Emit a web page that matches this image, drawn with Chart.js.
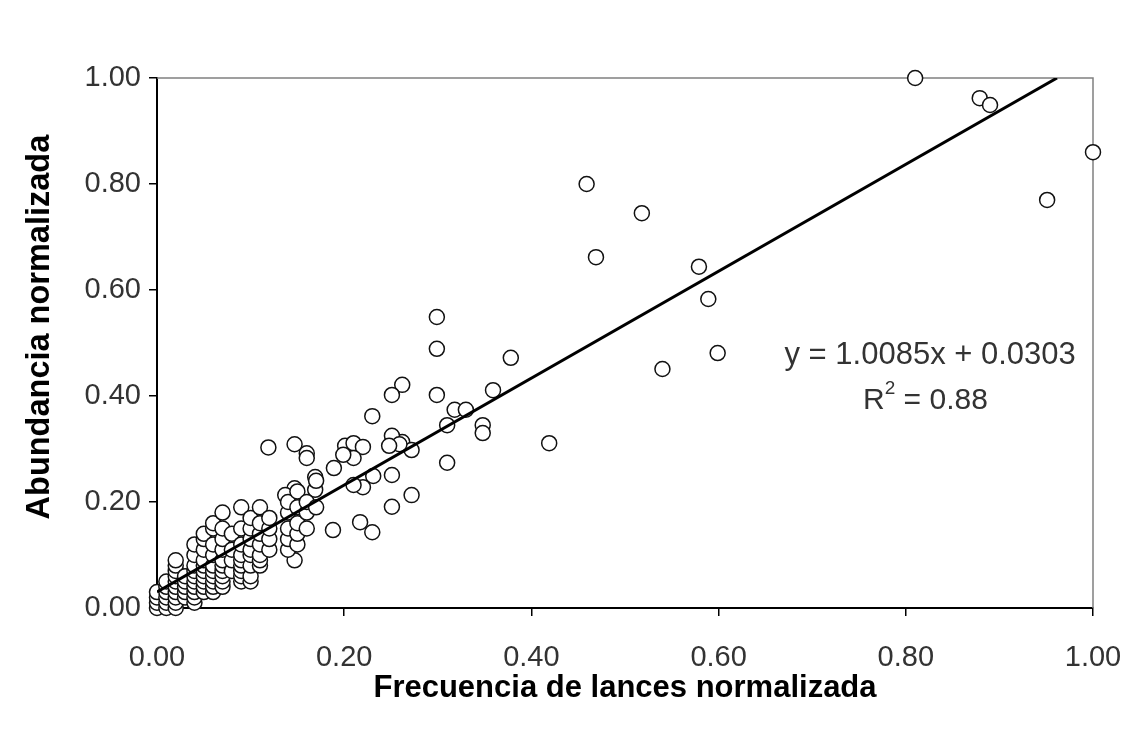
<!DOCTYPE html>
<html>
<head>
<meta charset="utf-8">
<script src="https://cdn.jsdelivr.net/npm/chart.js@4.4.1/dist/chart.umd.min.js"></script>
<style>
  html, body { margin: 0; padding: 0; background: #fff; }
  #wrap { width: 1132px; height: 734px; }
</style>
</head>
<body>
<div id="wrap"><canvas id="c" width="1132" height="734"></canvas></div>
<script>
// Frecuencia de lances normalizada (x) and Abundancia normalizada (y)
const freqValues = [
  0.81, 0.879, 0.89, 1.00, 0.951,
  0.459, 0.518, 0.469, 0.579, 0.589, 0.599, 0.540,
  0.299, 0.299, 0.378, 0.262, 0.299, 0.359, 0.318, 0.330, 0.348, 0.348, 0.310, 0.419, 0.262, 0.272, 0.310, 0.272,
  0.251, 0.230, 0.251, 0.259, 0.248,
  0.119, 0.147, 0.160, 0.160, 0.189, 0.201, 0.210, 0.220, 0.210, 0.199, 0.231, 0.251, 0.220, 0.210, 0.169, 0.169, 0.147, 0.137, 0.251, 0.217, 0.230, 0.188, 0.147,
  0.00, 0.00, 0.00, 0.00,
  0.01, 0.01, 0.01, 0.01, 0.01, 0.01,
  0.02, 0.02, 0.02, 0.02, 0.02, 0.02, 0.02, 0.02, 0.02, 0.02,
  0.03, 0.03, 0.03, 0.03, 0.03,
  0.04, 0.04, 0.04, 0.04, 0.04, 0.04, 0.04, 0.04, 0.04, 0.04,
  0.05, 0.05, 0.05, 0.05, 0.05, 0.05, 0.05, 0.05, 0.05, 0.05,
  0.06, 0.06, 0.06, 0.06, 0.06, 0.06, 0.06, 0.06, 0.06, 0.06,
  0.07, 0.07, 0.07, 0.07, 0.07, 0.07, 0.07, 0.07, 0.07, 0.07,
  0.08, 0.08, 0.08, 0.08,
  0.09, 0.09, 0.09, 0.09, 0.09, 0.09, 0.09, 0.09, 0.09,
  0.10, 0.10, 0.10, 0.10, 0.10, 0.10, 0.10, 0.10,
  0.11, 0.11, 0.11, 0.11, 0.11, 0.11, 0.11,
  0.12, 0.12, 0.12, 0.12,
  0.14, 0.14, 0.14, 0.14, 0.14,
  0.15, 0.15, 0.15, 0.15, 0.15,
  0.16, 0.16, 0.16,
  0.17, 0.17
];
const abundValues = [
  1.00, 0.962, 0.949, 0.86, 0.77,
  0.80, 0.745, 0.662, 0.644, 0.583, 0.481, 0.451,
  0.549, 0.489, 0.472, 0.421, 0.402, 0.411, 0.374, 0.374, 0.345, 0.330, 0.345, 0.311, 0.313, 0.298, 0.274, 0.213,
  0.402, 0.362, 0.325, 0.309, 0.306,
  0.303, 0.309, 0.292, 0.283, 0.264, 0.306, 0.311, 0.304, 0.283, 0.289, 0.249, 0.251, 0.228, 0.232, 0.247, 0.223, 0.226, 0.213, 0.191, 0.162, 0.143, 0.147, 0.090,
  0.00, 0.01, 0.02, 0.03,
  0.00, 0.01, 0.02, 0.03, 0.04, 0.05,
  0.00, 0.01, 0.02, 0.03, 0.04, 0.05, 0.06, 0.07, 0.08, 0.09,
  0.02, 0.03, 0.04, 0.05, 0.06,
  0.01, 0.02, 0.03, 0.04, 0.05, 0.06, 0.07, 0.08, 0.10, 0.12,
  0.03, 0.04, 0.05, 0.06, 0.07, 0.08, 0.09, 0.11, 0.13, 0.14,
  0.03, 0.04, 0.05, 0.06, 0.07, 0.08, 0.10, 0.12, 0.15, 0.16,
  0.04, 0.05, 0.06, 0.07, 0.08, 0.09, 0.11, 0.13, 0.15, 0.18,
  0.07, 0.09, 0.11, 0.14,
  0.05, 0.06, 0.07, 0.08, 0.09, 0.10, 0.12, 0.15, 0.19,
  0.05, 0.06, 0.08, 0.10, 0.11, 0.13, 0.15, 0.17,
  0.08, 0.09, 0.10, 0.12, 0.14, 0.16, 0.19,
  0.11, 0.13, 0.15, 0.17,
  0.11, 0.13, 0.15, 0.18, 0.20,
  0.12, 0.14, 0.16, 0.19, 0.22,
  0.15, 0.18, 0.20,
  0.19, 0.24
];
// Regression (from the chart's equation)
const fitSlope = 1.0085;
const fitIntercept = 0.0303;
const fitR2 = 0.88;
const fitXRange = [0, (1 - 0.0303) / 1.0085];
const tickValues = [0, 0.2, 0.4, 0.6, 0.8, 1.0];
const xTitle = 'Frecuencia de lances normalizada';
const yTitle = 'Abundancia normalizada';

const points = freqValues.map((x, i) => ({ x: x, y: abundValues[i] }));
const fitLine = fitXRange.map(x => ({ x: x, y: fitSlope * x + fitIntercept }));

const FONT = "'Liberation Sans', Arial, sans-serif";

const framePlugin = {
  id: 'frame',
  beforeDatasetsDraw(chart) {
    const a = chart.chartArea, ctx = chart.ctx;
    ctx.save();
    ctx.strokeStyle = '#808080';
    ctx.lineWidth = 1.5;
    ctx.beginPath();
    ctx.moveTo(a.left, a.top);
    ctx.lineTo(a.right, a.top);
    ctx.lineTo(a.right, a.bottom);
    ctx.stroke();
    ctx.restore();
  }
};

const textPlugin = {
  id: 'texts',
  afterDraw(chart) {
    const ctx = chart.ctx, xs = chart.scales.x, ys = chart.scales.y;
    ctx.save();
    // Y axis title (rotated)
    ctx.fillStyle = '#000';
    ctx.font = 'bold 32.5px ' + FONT;
    ctx.textAlign = 'center';
    ctx.textBaseline = 'middle';
    ctx.translate(40, ys.getPixelForValue(0.53));
    ctx.rotate(-Math.PI / 2);
    ctx.fillText(yTitle, 0, 0);
    ctx.restore();

    ctx.save();
    ctx.fillStyle = '#333';
    ctx.textBaseline = 'middle';
    ctx.font = '31px ' + FONT;
    ctx.textAlign = 'center';
    const eq = 'y = ' + fitSlope.toFixed(4) + 'x + ' + fitIntercept.toFixed(4);
    ctx.fillText(eq, xs.getPixelForValue(0.826), ys.getPixelForValue(0.477));
    // R² line
    const cx = xs.getPixelForValue(0.821), cy = ys.getPixelForValue(0.392);
    const p1 = 'R', p2 = '2', p3 = ' = ' + fitR2.toFixed(2);
    ctx.font = '30px ' + FONT;
    const w1 = ctx.measureText(p1).width, w3 = ctx.measureText(p3).width;
    ctx.font = '19px ' + FONT;
    const w2 = ctx.measureText(p2).width;
    const total = w1 + w2 + w3;
    let x0 = cx - total / 2;
    ctx.textAlign = 'left';
    ctx.font = '30px ' + FONT;
    ctx.fillText(p1, x0, cy);
    ctx.font = '19px ' + FONT;
    ctx.fillText(p2, x0 + w1, cy - 11);
    ctx.font = '30px ' + FONT;
    ctx.fillText(p3, x0 + w1 + w2, cy);
    ctx.restore();
  }
};

new Chart(document.getElementById('c'), {
  type: 'scatter',
  data: {
    datasets: [
      {
        type: 'line',
        data: fitLine,
        borderColor: '#000',
        borderWidth: 3,
        pointRadius: 0,
        fill: false,
        order: 0
      },
      {
        data: points,
        pointRadius: 7.5,
        pointBorderWidth: 1.5,
        pointBorderColor: '#111',
        pointBackgroundColor: '#fff',
        borderColor: '#111',
        backgroundColor: '#fff',
        clip: false,
        order: 1
      }
    ]
  },
  options: {
    responsive: false,
    animation: false,
    events: [],
    layout: { autoPadding: false, padding: { top: 78, right: 39, left: 0, bottom: 0 } },
    plugins: { legend: { display: false }, tooltip: { enabled: false } },
    scales: {
      x: {
        type: 'linear',
        min: 0, max: 1,
        afterBuildTicks(s) { s.ticks = tickValues.map(v => ({ value: v })); },
        ticks: {
          callback: v => Number(v).toFixed(2),
          font: { size: 29, family: FONT },
          color: '#333',
          padding: 25,
          maxRotation: 0
        },
        grid: { drawOnChartArea: false, tickLength: 8, color: '#000', lineWidth: 1.5 },
        border: { color: '#000', width: 2 },
        title: {
          display: true,
          text: xTitle,
          font: { size: 31, weight: 'bold', family: FONT },
          color: '#000',
          padding: { top: 8, bottom: 27 }
        },
        afterFit(s) { s.height = 126; s.paddingRight = 30; s.paddingLeft = 30; }
      },
      y: {
        type: 'linear',
        min: 0, max: 1,
        afterBuildTicks(s) { s.ticks = tickValues.map(v => ({ value: v })); },
        ticks: {
          callback: v => Number(v).toFixed(2),
          font: { size: 29, family: FONT },
          color: '#333',
          padding: 8
        },
        grid: { drawOnChartArea: false, tickLength: 8, color: '#000', lineWidth: 1.5 },
        border: { color: '#000', width: 2 },
        title: { display: false },
        afterFit(s) { s.width = 157; }
      }
    }
  },
  plugins: [framePlugin, textPlugin]
});
</script>
</body>
</html>
